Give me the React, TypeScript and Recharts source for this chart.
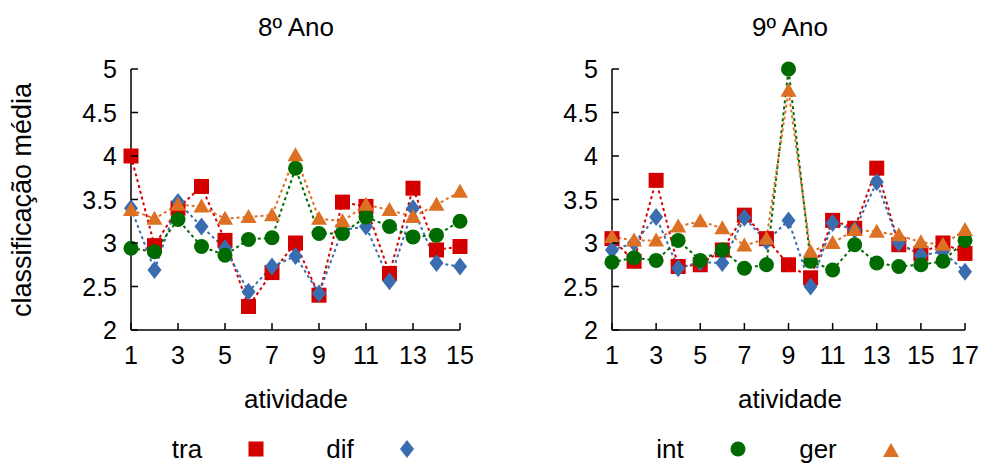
import React from "react";
import { LineChart, Line, XAxis, YAxis } from "recharts";

// 8º Ano
const atividades8 = [1, 2, 3, 4, 5, 6, 7, 8, 9, 10, 11, 12, 13, 14, 15];
const tra8 = [4.0, 2.97, 3.4, 3.65, 3.03, 2.27, 2.66, 3.0, 2.4, 3.47, 3.42, 2.65, 3.63, 2.92, 2.96];
const dif8 = [3.4, 2.69, 3.47, 3.19, 2.94, 2.44, 2.73, 2.85, 2.42, 3.15, 3.19, 2.56, 3.4, 2.77, 2.73];
const int8 = [2.94, 2.9, 3.27, 2.96, 2.86, 3.04, 3.06, 3.86, 3.11, 3.11, 3.3, 3.19, 3.07, 3.09, 3.25];
const ger8 = [3.38, 3.28, 3.44, 3.42, 3.28, 3.3, 3.32, 4.01, 3.28, 3.25, 3.44, 3.38, 3.3, 3.44, 3.59];

// 9º Ano
const atividades9 = [1, 2, 3, 4, 5, 6, 7, 8, 9, 10, 11, 12, 13, 14, 15, 16, 17];
const tra9 = [3.05, 2.79, 3.72, 2.73, 2.75, 2.92, 3.32, 3.05, 2.75, 2.6, 3.26, 3.17, 3.86, 2.98, 2.88, 3.0, 2.88];
const dif9 = [2.92, 3.0, 3.3, 2.71, 2.78, 2.77, 3.29, 3.02, 3.26, 2.5, 3.23, 3.15, 3.7, 3.0, 2.86, 2.9, 2.67];
const int9 = [2.78, 2.83, 2.8, 3.03, 2.8, 2.92, 2.71, 2.75, 5.0, 2.79, 2.69, 2.98, 2.77, 2.73, 2.75, 2.79, 3.03];
const ger9 = [3.07, 3.03, 3.03, 3.19, 3.25, 3.17, 2.97, 3.05, 4.75, 2.9, 3.0, 3.15, 3.13, 3.09, 3.01, 2.98, 3.15];

const yTicks = [2, 2.5, 3, 3.5, 4, 4.5, 5];
const xTicks8 = [1, 3, 5, 7, 9, 11, 13, 15];
const xTicks9 = [1, 3, 5, 7, 9, 11, 13, 15, 17];

const colors = { tra: "#d40000", dif: "#3a6db0", int: "#006b00", ger: "#dc7023" };
const FONT = "'Liberation Sans', Arial, sans-serif";
const TICK_FS = 25;
const LABEL_FS = 26;
const TICK = 7;

function buildRows(xs: number[], tra: number[], dif: number[], int_: number[], ger: number[]) {
  return xs.map((x, i) => ({ x, tra: tra[i], dif: dif[i], int: int_[i], ger: ger[i] }));
}

const rows8 = buildRows(atividades8, tra8, dif8, int8, ger8);
const rows9 = buildRows(atividades9, tra9, dif9, int9, ger9);

function Marker({ kind, cx, cy }: { kind: string; cx: number; cy: number }) {
  const c = (colors as any)[kind];
  if (kind === "tra") return <rect x={cx - 7.5} y={cy - 7.5} width={15} height={15} fill={c} />;
  if (kind === "dif")
    return <polygon points={`${cx},${cy - 9} ${cx + 7},${cy} ${cx},${cy + 9} ${cx - 7},${cy}`} fill={c} />;
  if (kind === "int") return <circle cx={cx} cy={cy} r={7.5} fill={c} />;
  return <polygon points={`${cx},${cy - 8} ${cx + 8},${cy + 6} ${cx - 8},${cy + 6}`} fill={c} />;
}

const dotFor = (kind: string) => (p: any) => (
  <Marker key={`${kind}-${p.index}`} kind={kind} cx={p.cx} cy={p.cy} />
);

const LeftTick = (p: any) => (
  <g>
    <line x1={p.x + 14} x2={p.x + 14 + TICK} y1={p.y} y2={p.y} stroke="#000" strokeWidth={1.5} />
    <text x={p.x} y={p.y} dy="0.36em" textAnchor="end" fontSize={TICK_FS} fontFamily={FONT} fill="#000">
      {p.payload.value}
    </text>
  </g>
);

const RightTick = (p: any) => (
  <line x1={p.x} x2={p.x - TICK} y1={p.y} y2={p.y} stroke="#000" strokeWidth={1.5} />
);

const BottomTick = (p: any) => (
  <g>
    <line x1={p.x} x2={p.x} y1={p.y - 16} y2={p.y - 16 - TICK} stroke="#000" strokeWidth={1.5} />
    <text x={p.x} y={p.y} dy="0.72em" textAnchor="middle" fontSize={TICK_FS} fontFamily={FONT} fill="#000">
      {p.payload.value}
    </text>
  </g>
);

const TopTick = (p: any) => (
  <line x1={p.x} x2={p.x} y1={p.y} y2={p.y + TICK} stroke="#000" strokeWidth={1.5} />
);

function Panel({ rows, xMax, xTicks, width, marginLeft, marginRight }: any) {
  const axisLine = { stroke: "#000", strokeWidth: 1.5 };
  return (
    <LineChart
      width={width}
      height={463}
      data={rows}
      margin={{ top: 69, right: marginRight, bottom: 93, left: marginLeft }}
    >
      <XAxis
        dataKey="x"
        type="number"
        domain={[1, xMax]}
        ticks={xTicks}
        interval={0}
        height={40}
        tickSize={0}
        tickMargin={16}
        axisLine={axisLine}
        tick={BottomTick}
      />
      <XAxis
        xAxisId="top"
        dataKey="x"
        type="number"
        orientation="top"
        domain={[1, xMax]}
        ticks={xTicks}
        interval={0}
        height={0}
        tickSize={0}
        tickMargin={0}
        axisLine={axisLine}
        tick={TopTick}
      />
      <YAxis
        type="number"
        domain={[2, 5]}
        ticks={yTicks}
        interval={0}
        width={60}
        tickSize={0}
        tickMargin={14}
        axisLine={axisLine}
        tick={LeftTick}
      />
      <YAxis
        yAxisId="right"
        orientation="right"
        type="number"
        domain={[2, 5]}
        ticks={yTicks}
        interval={0}
        width={0}
        tickSize={0}
        tickMargin={0}
        axisLine={axisLine}
        tick={RightTick}
      />
      {(["tra", "dif", "int", "ger"] as const).map((k) => (
        <Line
          key={k}
          dataKey={k}
          stroke={(colors as any)[k]}
          strokeWidth={2}
          strokeDasharray="3 3"
          type="linear"
          dot={dotFor(k)}
          activeDot={false}
          isAnimationActive={false}
        />
      ))}
    </LineChart>
  );
}

const txt = { fontSize: LABEL_FS, fontFamily: FONT, fill: "#000" } as const;

export default function App() {
  return (
    <div style={{ position: "absolute", left: 0, top: 0, width: 985, height: 463, background: "#fff" }}>
      <div style={{ position: "absolute", left: 0, top: 0 }}>
        <Panel rows={rows8} xMax={15} xTicks={xTicks8} width={490} marginLeft={71} marginRight={30} />
      </div>
      <div style={{ position: "absolute", left: 490, top: 0 }}>
        <Panel rows={rows9} xMax={17} xTicks={xTicks9} width={495} marginLeft={62} marginRight={20} />
      </div>
      <svg width={985} height={463} style={{ position: "absolute", left: 0, top: 0, pointerEvents: "none" }}>
        <text x={296} y={27} dominantBaseline="central" textAnchor="middle" {...txt}>8º Ano</text>
        <text x={790} y={27} dominantBaseline="central" textAnchor="middle" {...txt}>9º Ano</text>
        <text x={296} y={399} dominantBaseline="central" textAnchor="middle" {...txt}>atividade</text>
        <text x={790} y={399} dominantBaseline="central" textAnchor="middle" {...txt}>atividade</text>
        <text
          x={22}
          y={200}
          dominantBaseline="central"
          textAnchor="middle"
          transform="rotate(-90 22 200)"
          {...txt}
          fontSize={27}
        >
          classificação média
        </text>
        <text x={187} y={449} dominantBaseline="central" textAnchor="middle" {...txt}>tra</text>
        <Marker kind="tra" cx={256} cy={449} />
        <text x={340} y={449} dominantBaseline="central" textAnchor="middle" {...txt}>dif</text>
        <Marker kind="dif" cx={407} cy={449} />
        <text x={670} y={449} dominantBaseline="central" textAnchor="middle" {...txt}>int</text>
        <Marker kind="int" cx={738} cy={449} />
        <text x={818} y={449} dominantBaseline="central" textAnchor="middle" {...txt}>ger</text>
        <Marker kind="ger" cx={891} cy={451} />
      </svg>
    </div>
  );
}
